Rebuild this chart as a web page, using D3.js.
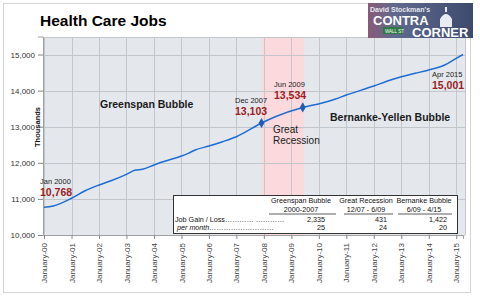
<!DOCTYPE html>
<html>
<head>
<meta charset="utf-8">
<script src="https://cdn.jsdelivr.net/npm/d3@7"></script>
<style>
body{margin:0;background:#fff;}
svg{display:block;font-family:"Liberation Sans",Arial,sans-serif;}
</style>
</head>
<body>
<script>
// health care jobs, thousands
var months = ["2000-01","2000-05","2001-01","2001-07","2002-01","2002-06","2003-01","2003-05","2003-08","2004-01","2004-05",
	"2005-01","2005-04","2005-07","2006-01","2006-07","2007-01","2007-12","2008-06","2009-06","2010-02","2010-08",
	"2011-01","2012-01","2012-07","2013-01","2013-07","2014-01","2014-08","2015-01","2015-04"];
var jobs = [10768,10803,11017,11227,11385,11496,11681,11800,11820,11939,12030,
	12188,12263,12355,12465,12585,12723,13103,13277,13534,13648,13759,
	13878,14127,14266,14385,14479,14571,14709,14895,15001];
var yTicks = [10000,11000,12000,13000,14000,15000];
var xTickYears = d3.range(2000,2016);
var recession = ["2007-12","2009-06"];
var markers = ["2007-12","2009-06"];

var callouts = [
	{ date:"Jan 2000", value:"10,768" },
	{ date:"Dec 2007", value:"13,103" },
	{ date:"Jun 2009", value:"13,534" },
	{ date:"Apr 2015", value:"15,001" }
];

var tableHeads = ["Greenspan Bubble","Great Recession","Bernanke Bubble"];
var tableSpans = ["2000-2007","12/07 - 6/09","6/09 - 4/15"];
var tableGain = ["2,335","431","1,422"];
var tablePerMonth = ["25","24","20"];

var W = 480, H = 298;
var parse = d3.timeParse("%Y-%m");
var data = months.map(function(m,i){ return { d:parse(m), v:jobs[i] }; });

var plot = { left:43, right:465, top:37, bottom:235 };
var x = d3.scaleTime().domain([parse("2000-01"),parse("2015-04")]).range([44,463]);
var y = d3.scaleLinear().domain([10000,15500]).range([235,36.5]);

var svg = d3.select("body").append("svg").attr("width",W).attr("height",H);

// outer frame
svg.append("rect").attr("x",3.5).attr("y",3.5).attr("width",467).attr("height",289)
	.attr("fill","#fff").attr("stroke","#d4d4d4");

svg.append("text").attr("x",40).attr("y",26).attr("font-size",15.5).attr("font-weight","bold")
	.attr("fill","#000").text("Health Care Jobs");

// plot background
svg.append("rect").attr("x",plot.left).attr("y",plot.top)
	.attr("width",plot.right-plot.left).attr("height",plot.bottom-plot.top)
	.attr("fill","#e4e8ed");

// recession band
svg.append("rect").attr("x",x(parse(recession[0]))).attr("y",plot.top)
	.attr("width",x(parse(recession[1]))-x(parse(recession[0]))+1).attr("height",plot.bottom-plot.top)
	.attr("fill","#fbd9dc");

var xTicks = xTickYears.map(function(yr){ return new Date(yr,0,1); });
var grid = svg.append("g").attr("stroke","#c3c6ca").attr("stroke-width",1);
grid.selectAll("line.v").data(xTicks).enter().append("line").attr("class","v")
	.attr("x1",function(d){ return Math.round(x(d))+0.5; }).attr("x2",function(d){ return Math.round(x(d))+0.5; })
	.attr("y1",plot.top).attr("y2",plot.bottom);
grid.selectAll("line.h").data(yTicks.concat([15500])).enter().append("line").attr("class","h")
	.attr("x1",plot.left).attr("x2",plot.right)
	.attr("y1",function(d){ return Math.round(y(d))+0.5; }).attr("y2",function(d){ return Math.round(y(d))+0.5; });
svg.append("line").attr("x1",plot.right+0.5).attr("x2",plot.right+0.5).attr("y1",plot.top).attr("y2",plot.bottom)
	.attr("stroke","#c3c6ca");

// y axis
var yAxis = d3.axisLeft(y).tickValues(yTicks).tickFormat(d3.format(",")).tickSize(5).tickPadding(3);
var ya = svg.append("g").attr("transform","translate("+plot.left+",0)").call(yAxis);
ya.select(".domain").attr("stroke","#a0a0a0");
ya.selectAll(".tick line").attr("stroke","#888");
ya.selectAll("text").attr("font-size",8).attr("fill","#333").attr("font-family","Liberation Sans, Arial, sans-serif");

svg.append("text").attr("transform","translate(40,127) rotate(-90)").attr("text-anchor","middle")
	.attr("font-size",7.5).attr("font-weight","bold").attr("fill","#111").text("Thousands");

// x axis
var xAxis = d3.axisBottom(x).tickValues(xTicks).tickFormat(d3.timeFormat("January-%y")).tickSize(4).tickPadding(3);
var xa = svg.append("g").attr("transform","translate(0,"+plot.bottom+")").call(xAxis);
xa.select(".domain").attr("stroke","#a0a0a0");
xa.selectAll(".tick line").attr("stroke","#888");
xa.selectAll("text").attr("font-size",8).attr("fill","#444").attr("font-family","Liberation Sans, Arial, sans-serif")
	.attr("text-anchor","end").attr("dy","0.32em")
	.attr("transform","translate(0,3) rotate(-90)").attr("x",-5).attr("y",0);

// series
var line = d3.line().x(function(d){ return x(d.d); }).y(function(d){ return y(d.v); }).curve(d3.curveMonotoneX);
svg.append("path").datum(data).attr("d",line).attr("fill","none")
	.attr("stroke","#1d6cd2").attr("stroke-width",1.5);

var markData = data.filter(function(d){ return markers.indexOf(d3.timeFormat("%Y-%m")(d.d)) >= 0; });
svg.selectAll("path.mk").data(markData).enter().append("path").attr("class","mk")
	.attr("d",d3.symbol().type(d3.symbolDiamond).size(30))
	.attr("transform",function(d){ return "translate("+x(d.d)+","+y(d.v)+")"; })
	.attr("fill","#1f5cb8");

// callouts
var calloutPos = [[40,184,196],[235,103,115],[274,87,99],[432,77,89]];
callouts.forEach(function(c,i){
	var p = calloutPos[i];
	svg.append("text").attr("x",p[0]).attr("y",p[1]).attr("font-size",7.5).attr("fill","#222").text(c.date);
	svg.append("text").attr("x",p[0]).attr("y",p[2]).attr("font-size",10.5).attr("font-weight","bold")
		.attr("fill","#9a1c1f").text(c.value);
});

svg.append("text").attr("x",100).attr("y",108).attr("font-size",10.5).attr("font-weight","bold").attr("fill","#1a1a1a").text("Greenspan Bubble");
svg.append("text").attr("x",330).attr("y",121).attr("font-size",10.5).attr("font-weight","bold").attr("fill","#1a1a1a").text("Bernanke-Yellen Bubble");
svg.append("text").attr("x",273).attr("y",133).attr("font-size",10).attr("fill","#1a1a1a").text("Great");
svg.append("text").attr("x",273).attr("y",144).attr("font-size",10).attr("fill","#1a1a1a").text("Recession");

// summary table
var tb = svg.append("g").attr("font-size",7.2).attr("fill","#111");
tb.append("rect").attr("x",173.5).attr("y",195.5).attr("width",284).attr("height",38)
	.attr("fill","#fff").attr("stroke","#333");
var colCenter = [301,366,424], colRight = [325,387,447], colL = [269,344,398], colR = [336,393,452];
tableHeads.forEach(function(h,i){
	tb.append("text").attr("x",colCenter[i]).attr("y",202.5).attr("text-anchor","middle").text(h);
	tb.append("text").attr("x",colCenter[i]).attr("y",211.5).attr("text-anchor","middle").text(tableSpans[i]);
	tb.append("line").attr("x1",colL[i]).attr("x2",colR[i]).attr("y1",214).attr("y2",214).attr("stroke","#333").attr("stroke-width",0.8);
	tb.append("text").attr("x",colRight[i]).attr("y",221.5).attr("text-anchor","end").text(tableGain[i]);
	tb.append("text").attr("x",colRight[i]).attr("y",229.5).attr("text-anchor","end").text(tablePerMonth[i]);
});
tb.append("text").attr("x",175).attr("y",221.5).text("Job Gain / Loss\u2026\u2026\u2026\u2026 \u2026\u2026\u2026\u2026");
tb.append("text").attr("x",177).attr("y",229.5).attr("font-style","italic").text("per month\u2026\u2026\u2026\u2026\u2026\u2026\u2026\u2026\u2026");

// logo stand-in
var logo = svg.append("g").attr("transform","translate(368,3)");
var grad = svg.append("defs").append("linearGradient").attr("id","lg").attr("x1",0).attr("x2",1);
grad.append("stop").attr("offset",0).attr("stop-color","#8a5a78");
grad.append("stop").attr("offset",0.25).attr("stop-color","#5f6a8e");
grad.append("stop").attr("offset",1).attr("stop-color","#3d4a6e");
logo.append("rect").attr("width",105).attr("height",35).attr("fill","url(#lg)");
logo.append("path").attr("d","M72,24 L72,16 Q78,6 84,16 L84,24 Z").attr("fill","#e8ecf2");
logo.append("rect").attr("x",77).attr("y",4).attr("width",2).attr("height",5).attr("fill","#e8ecf2");
logo.append("rect").attr("x",15).attr("y",24).attr("width",20).attr("height",7).attr("fill","#2f7a43");
logo.append("text").attr("x",17).attr("y",29.5).attr("font-size",4.5).attr("fill","#fff").text("WALL ST");
logo.append("text").attr("x",2).attr("y",9).attr("font-size",7).attr("font-weight","bold").attr("fill","#e6e6ee").text("David Stockman's");
logo.append("text").attr("x",5).attr("y",22).attr("font-size",13).attr("font-weight","bold").attr("fill","#fff").text("CONTRA");
logo.append("text").attr("x",44).attr("y",34).attr("font-size",13).attr("font-weight","bold").attr("fill","#fff").text("CORNER");
</script>
</body>
</html>
